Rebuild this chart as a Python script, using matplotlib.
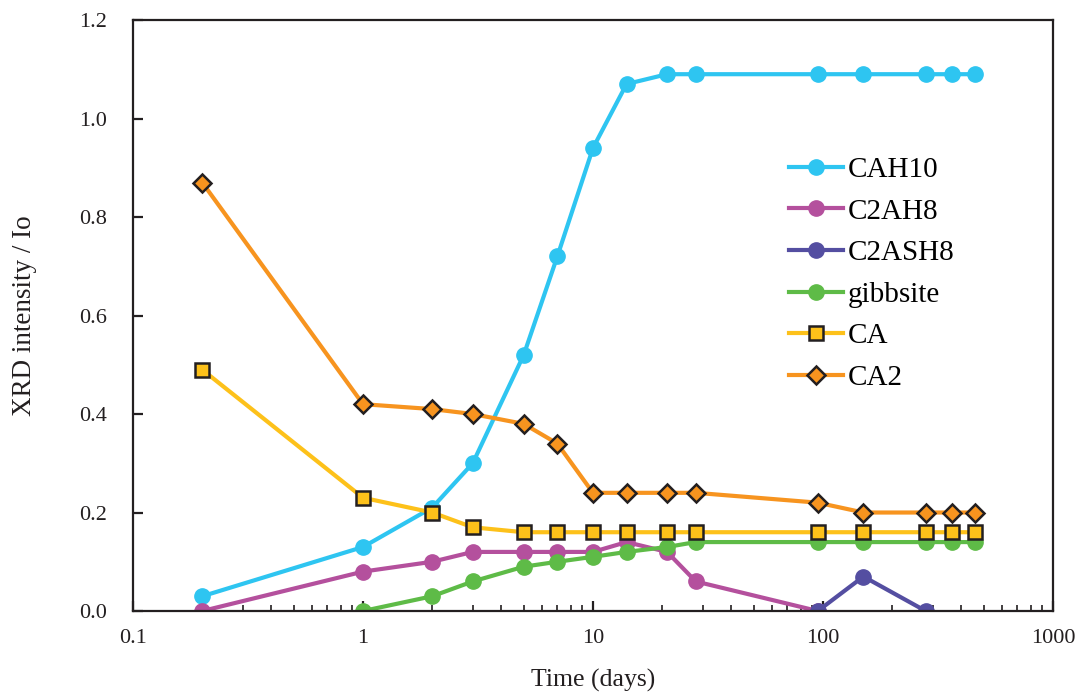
import matplotlib
matplotlib.use("Agg")
import matplotlib.pyplot as plt
from matplotlib.ticker import LogLocator, FixedLocator, FuncFormatter, NullFormatter

plt.rcParams['font.family'] = ['Liberation Serif', 'DejaVu Serif']

# Hydration time (days)
t_cah10 = [0.2, 1, 2, 3, 5, 7, 10, 14, 21, 28, 95, 150, 280, 365, 460]
cah10 = [0.03, 0.13, 0.21, 0.30, 0.52, 0.72, 0.94, 1.07, 1.09, 1.09, 1.09, 1.09, 1.09, 1.09, 1.09]

t_c2ah8 = [0.2, 1, 2, 3, 5, 7, 10, 14, 21, 28, 95]
c2ah8 = [0.00, 0.08, 0.10, 0.12, 0.12, 0.12, 0.12, 0.14, 0.12, 0.06, 0.00]

t_c2ash8 = [95, 150, 280]
c2ash8 = [0.00, 0.07, 0.00]

t_gibbsite = [1, 2, 3, 5, 7, 10, 14, 21, 28, 95, 150, 280, 365, 460]
gibbsite = [0.00, 0.03, 0.06, 0.09, 0.10, 0.11, 0.12, 0.13, 0.14, 0.14, 0.14, 0.14, 0.14, 0.14]

t_ca = [0.2, 1, 2, 3, 5, 7, 10, 14, 21, 28, 95, 150, 280, 365, 460]
ca = [0.49, 0.23, 0.20, 0.17, 0.16, 0.16, 0.16, 0.16, 0.16, 0.16, 0.16, 0.16, 0.16, 0.16, 0.16]

t_ca2 = [0.2, 1, 2, 3, 5, 7, 10, 14, 21, 28, 95, 150, 280, 365, 460]
ca2 = [0.87, 0.42, 0.41, 0.40, 0.38, 0.34, 0.24, 0.24, 0.24, 0.24, 0.22, 0.20, 0.20, 0.20, 0.20]

y_ticks = [0.0, 0.2, 0.4, 0.6, 0.8, 1.0, 1.2]
x_ticks = [0.1, 1, 10, 100, 1000]
x_tick_labels = ["0.1", "1", "10", "100", "1000"]

fig = plt.figure(figsize=(10.86, 6.93), dpi=100)
ax = fig.add_axes([0.1225, 0.1183, 0.847, 0.8528])

lw = 3.0
ax.plot(t_cah10, cah10, color="#2EC5F1", lw=lw, marker="o", ms=11, mec="#2EC5F1", label="CAH10")
ax.plot(t_c2ah8, c2ah8, color="#B4509D", lw=lw, marker="o", ms=11, mec="#B4509D", label="C2AH8")
ax.plot(t_c2ash8, c2ash8, color="#544EA1", lw=lw, marker="o", ms=11, mec="#544EA1", label="C2ASH8")
ax.plot(t_gibbsite, gibbsite, color="#5EBB47", lw=lw, marker="o", ms=11, mec="#5EBB47", label="gibbsite")
ax.plot(t_ca, ca, color="#FDC11A", lw=lw, marker="s", ms=10, mec="#231F20", mew=1.8, label="CA")
ax.plot(t_ca2, ca2, color="#F7941F", lw=lw, marker="D", ms=9, mec="#231F20", mew=1.8, label="CA2")

ax.set_xscale("log")
ax.set_xlim(0.1, 1000)
ax.set_ylim(0, 1.2)
ax.xaxis.set_major_locator(FixedLocator(x_ticks))
ax.xaxis.set_major_formatter(FuncFormatter(lambda v, p: x_tick_labels[x_ticks.index(v)] if v in x_ticks else ""))
ax.xaxis.set_minor_locator(LogLocator(base=10, subs=range(2, 10)))
ax.xaxis.set_minor_formatter(NullFormatter())
ax.set_yticks(y_ticks)
ax.set_yticklabels([f"{v:.1f}" for v in y_ticks])

for s in ax.spines.values():
    s.set_linewidth(1.6)
    s.set_color("#231F20")
ax.tick_params(axis="both", which="major", direction="in", length=7, width=1.6,
               labelsize=16, colors="#231F20")
ax.tick_params(axis="y", which="major", pad=19)
ax.tick_params(axis="x", which="major", pad=13)
ax.tick_params(axis="x", which="minor", direction="in", length=4, width=1.2, colors="#231F20")

ax.set_xlabel("Time (days)", fontsize=18.5, color="#231F20", labelpad=15)
ax.set_ylabel("XRD intensity / Io", fontsize=19.5, color="#231F20", labelpad=30)

ax.legend(loc="upper left", bbox_to_anchor=(0.713, 0.769), frameon=False, fontsize=21,
          handlelength=1.86, handletextpad=0.17, labelspacing=0.52, borderpad=0,
          borderaxespad=0)

fig.savefig("out.png", dpi=100)
